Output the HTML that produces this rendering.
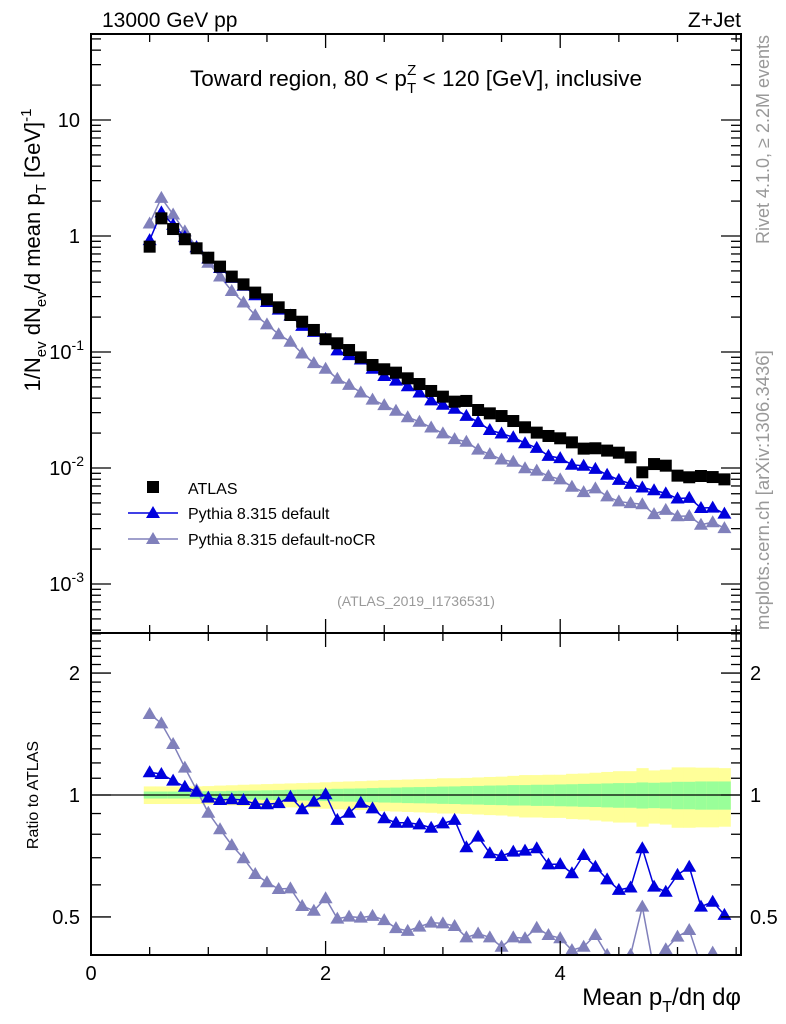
<!DOCTYPE html>
<html><head><meta charset="utf-8"><style>
html,body{margin:0;padding:0;background:#fff;}
svg{display:block;font-family:"Liberation Sans",sans-serif;}
</style></head><body>
<svg id="c" width="786" height="1024" viewBox="0 0 786 1024" xmlns="http://www.w3.org/2000/svg">
<g id="bands"></g>
<g id="marks"></g>
<g id="axes"></g>
<text x="102" y="27" font-size="21">13000 GeV pp</text>
<text x="741" y="27" font-size="21" text-anchor="end">Z+Jet</text>
<text x="416" y="86" font-size="22.5" text-anchor="middle">Toward region, 80 &lt; p<tspan font-size="15" dy="7">T</tspan><tspan font-size="15" dx="-9" dy="-18">Z</tspan><tspan dy="11"> &lt; 120 [GeV], inclusive</tspan></text>
<text transform="translate(40,250) rotate(-90)" font-size="22" text-anchor="middle">1/N<tspan font-size="15" dy="6">ev</tspan><tspan dy="-6"> dN</tspan><tspan font-size="15" dy="6">ev</tspan><tspan dy="-6">/d mean p</tspan><tspan font-size="15" dy="6">T</tspan><tspan dy="-6"> [GeV]</tspan><tspan font-size="15" dy="-9">-1</tspan></text>
<text transform="translate(38,795) rotate(-90)" font-size="16" text-anchor="middle">Ratio to ATLAS</text>
<text x="741" y="1005" font-size="24" text-anchor="end">Mean p<tspan font-size="16" dy="7">T</tspan><tspan dy="-7">/dη dφ</tspan></text>
<text transform="translate(769,35) rotate(-90)" font-size="18" fill="#999" text-anchor="end">Rivet 4.1.0, ≥ 2.2M events</text>
<text transform="translate(769,630) rotate(-90)" font-size="18.5" fill="#999">mcplots.cern.ch [arXiv:1306.3436]</text>
<text x="416" y="606" font-size="14" fill="#999" text-anchor="middle">(ATLAS_2019_I1736531)</text>
<g>
<rect x="147" y="481" width="12" height="12" fill="#000"/>
<text x="188" y="494" font-size="16">ATLAS</text>
<line x1="128" y1="513" x2="178" y2="513" stroke="#0000dd" stroke-width="1.5"/>
<polygon points="153,506 160,518 146,518" fill="#0000dd"/>
<text x="188" y="519" font-size="16">Pythia 8.315 default</text>
<line x1="128" y1="539" x2="178" y2="539" stroke="#8080bb" stroke-width="1.5"/>
<polygon points="153,532 160,544 146,544" fill="#8080bb"/>
<text x="188" y="545" font-size="16">Pythia 8.315 default-noCR</text>
</g>
</svg>
<script>
const xVals=[0.5,0.6,0.7,0.8,0.9,1.0,1.1,1.2,1.3,1.4,1.5,1.6,1.7,1.8,1.9,2.0,2.1,2.2,2.3,2.4,2.5,2.6,2.7,2.8,2.9,3.0,3.1,3.2,3.3,3.4,3.5,3.6,3.7,3.8,3.9,4.0,4.1,4.2,4.3,4.4,4.5,4.6,4.7,4.8,4.9,5.0,5.1,5.2,5.3,5.4];
const atlasLog=[-0.092,0.152,0.06,-0.028,-0.106,-0.187,-0.264,-0.35,-0.417,-0.488,-0.546,-0.615,-0.681,-0.739,-0.81,-0.89,-0.925,-0.983,-1.046,-1.112,-1.149,-1.178,-1.227,-1.276,-1.336,-1.385,-1.428,-1.422,-1.5,-1.529,-1.552,-1.595,-1.649,-1.695,-1.724,-1.744,-1.779,-1.833,-1.83,-1.85,-1.868,-1.908,-2.037,-1.966,-1.98,-2.066,-2.08,-2.069,-2.078,-2.098];
const ratioDefault=[1.138,1.127,1.085,1.048,1.019,0.985,0.972,0.976,0.972,0.95,0.949,0.955,0.99,0.922,0.963,1.004,0.868,0.904,0.957,0.927,0.876,0.854,0.854,0.846,0.83,0.851,0.868,0.743,0.789,0.718,0.707,0.725,0.729,0.739,0.674,0.675,0.641,0.711,0.665,0.619,0.583,0.591,0.739,0.594,0.577,0.635,0.665,0.53,0.545,0.506];
const ratioNoCR=[1.585,1.503,1.336,1.168,1.029,0.904,0.823,0.752,0.698,0.638,0.609,0.586,0.588,0.532,0.518,0.556,0.495,0.501,0.498,0.503,0.491,0.469,0.462,0.473,0.484,0.482,0.475,0.445,0.455,0.445,0.422,0.445,0.443,0.47,0.451,0.443,0.414,0.422,0.451,0.403,0.38,0.403,0.53,0.37,0.416,0.447,0.464,0.38,0.408,0.38];
const statErr=[0.02,0.02,0.02,0.02,0.02,0.022,0.022,0.024,0.025,0.026,0.027,0.028,0.03,0.031,0.032,0.034,0.036,0.037,0.038,0.04,0.042,0.043,0.045,0.046,0.047,0.049,0.05,0.052,0.053,0.055,0.056,0.058,0.058,0.06,0.06,0.062,0.063,0.065,0.066,0.068,0.07,0.07,0.074,0.072,0.074,0.078,0.078,0.08,0.08,0.08];
const totErr=[0.05,0.05,0.05,0.05,0.05,0.052,0.055,0.057,0.06,0.062,0.064,0.066,0.068,0.07,0.072,0.075,0.078,0.08,0.082,0.085,0.088,0.09,0.092,0.094,0.096,0.1,0.1,0.102,0.105,0.108,0.11,0.115,0.12,0.12,0.122,0.122,0.128,0.13,0.135,0.14,0.145,0.145,0.165,0.15,0.155,0.17,0.17,0.168,0.168,0.165];
const xTicksMajor=[0,2,4];
const yMainLabels=["10","1","10","10","10"];

const NS="http://www.w3.org/2000/svg";
const L=91,R=741,T=34,MB=633,B=955;
const X=v=>L+v*117.3;
const YM=lg=>120-(lg-1)*116;
const YR=r=>795-Math.log10(r)*405;
function el(tag,attrs,parent){const e=document.createElementNS(NS,tag);for(const k in attrs)e.setAttribute(k,attrs[k]);parent.appendChild(e);return e;}
const bands=document.getElementById('bands'),marks=document.getElementById('marks'),axes=document.getElementById('axes');

xVals.forEach((x,i)=>{
  const x0=X(x-0.05),w=X(x+0.05)-x0;
  const ty=YR(1+totErr[i]),by=YR(1-totErr[i]);
  const r1=el('rect',{x:x0,y:ty,width:w+0.5,height:by-ty,fill:'#ffff99'},bands);
  
  
  const gy=YR(1+statErr[i]),gb=YR(1-statErr[i]);
  const r2=el('rect',{x:x0,y:gy,width:w+0.5,height:gb-gy,fill:'#99ff99'},bands);
  
  
});
const l1=el('line',{x1:L,x2:R,y1:YR(1),y2:YR(1),stroke:'#000','stroke-width':1.2},bands);



const defs=el('defs',{},marks);
const c1=el('clipPath',{id:'cm'},defs);el('rect',{x:L,y:T,width:R-L,height:MB-T},c1);
const c2=el('clipPath',{id:'cr'},defs);el('rect',{x:L,y:MB,width:R-L,height:B-MB},c2);
const gm=el('g',{'clip-path':'url(#cm)'},marks),gr=el('g',{'clip-path':'url(#cr)'},marks);

function tri(g,cx,cy,col,name){
  const p=el('polygon',{points:`${cx},${cy-7} ${cx+7},${cy+5} ${cx-7},${cy+5}`,fill:col},g);
  
  
}
function series(g,ys,col,name){
  const pl=el('polyline',{points:xVals.map((x,i)=>X(x)+','+ys[i]).join(' '),fill:'none',stroke:col,'stroke-width':1.5},g);
  
  
  xVals.forEach((x,i)=>tri(g,X(x),ys[i],col,name+'-point'));
}
series(gm,xVals.map((x,i)=>YM(atlasLog[i]+Math.log10(ratioNoCR[i]))),'#8080bb','nocr');
series(gm,xVals.map((x,i)=>YM(atlasLog[i]+Math.log10(ratioDefault[i]))),'#0000dd','default');
xVals.forEach((x,i)=>{
  const s=el('rect',{x:X(x)-6,y:YM(atlasLog[i])-6,width:12,height:12,fill:'#000'},gm);
  
  
});
series(gr,ratioNoCR.map(r=>YR(r)),'#8080bb','ratio-nocr');
series(gr,ratioDefault.map(r=>YR(r)),'#0000dd','ratio-default');

[[T,MB],[MB,B]].forEach(([a,b])=>{
  const f=el('rect',{x:L,y:a,width:R-L,height:b-a,fill:'none',stroke:'#000','stroke-width':2},axes);
  
  
});
function tk(x1,y1,x2,y2){el('line',{x1,y1,x2,y2,stroke:'#000','stroke-width':1.3},axes);}
for(let v=0;v<=5.5;v+=0.5){
  const major=xTicksMajor.includes(v);const len=major?14:8;const x=X(v);
  [T,MB].forEach(y=>tk(x,y,x,y+len));
  [MB,B].forEach(y=>tk(x,y,x,y-len));
}
xTicksMajor.forEach(v=>{
  const t=el('text',{x:X(v),y:980,'font-size':20,'text-anchor':'middle'},axes);t.textContent=String(v);
  
  
});
for(let d=-4;d<=1;d++){
  for(let m=1;m<=9;m++){
    const y=YM(d+Math.log10(m));if(y<T||y>MB)continue;
    const len=m===1?20:10;tk(L,y,L+len,y);tk(R,y,R-len,y);
  }
}
[1,0,-1,-2,-3].forEach((d,i)=>{
  const y=YM(d);
  const t=el('text',{x:80,y:y+7,'font-size':20,'text-anchor':'end'},axes);
  
  
  if(d<0){t.textContent=yMainLabels[i];const s=el('tspan',{'font-size':14,dy:-9},t);s.textContent=String(d);t.setAttribute('x',84);}
  else t.textContent=yMainLabels[i];
});
for(let k=4;k<=25;k++){
  const r=k/10,y=YR(r);if(y<MB||y>B)continue;
  const major=(k===5||k===10||k===20);const len=major?20:10;
  tk(L,y,L+len,y);tk(R,y,R-len,y);
}
[[2,"2"],[1,"1"],[0.5,"0.5"]].forEach(([r,s])=>{
  const a=el('text',{x:80,y:YR(r)+7,'font-size':20,'text-anchor':'end'},axes);a.textContent=s;
  
  
  const b=el('text',{x:750,y:YR(r)+7,'font-size':20},axes);b.textContent=s;
  
  
});
</script>
</body></html>
